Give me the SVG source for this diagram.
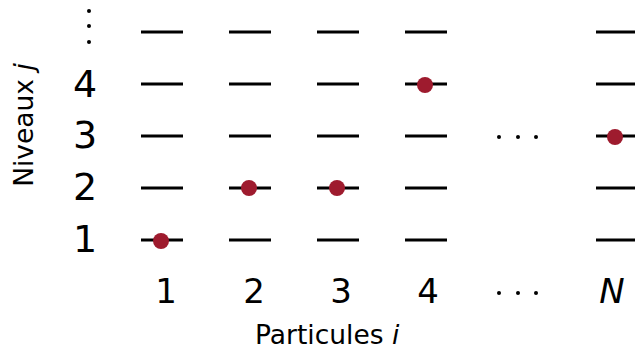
<svg xmlns="http://www.w3.org/2000/svg" width="635" height="351" viewBox="0 0 635 351">
<style>
.lv{stroke:#000;stroke-width:3;fill:none}
.p{fill:#9e1b2e}
.d{fill:#000}
.t{font-family:"DejaVu Sans","Liberation Sans",sans-serif;fill:#000}
.yl{font-size:38px;text-anchor:middle}
.xl{font-size:34px;text-anchor:middle}
.ax{font-size:26.5px}
</style>
<rect width="635" height="351" fill="#fff"/>
<g id="connectors">
<g id="col1"><line class="lv" x1="141" y1="32" x2="183" y2="32"/><line class="lv" x1="141" y1="84" x2="183" y2="84"/><line class="lv" x1="141" y1="136" x2="183" y2="136"/><line class="lv" x1="141" y1="188" x2="183" y2="188"/><line class="lv" x1="141" y1="240" x2="183" y2="240"/></g>
<g id="col2"><line class="lv" x1="229" y1="32" x2="271" y2="32"/><line class="lv" x1="229" y1="84" x2="271" y2="84"/><line class="lv" x1="229" y1="136" x2="271" y2="136"/><line class="lv" x1="229" y1="188" x2="271" y2="188"/><line class="lv" x1="229" y1="240" x2="271" y2="240"/></g>
<g id="col3"><line class="lv" x1="317" y1="32" x2="359" y2="32"/><line class="lv" x1="317" y1="84" x2="359" y2="84"/><line class="lv" x1="317" y1="136" x2="359" y2="136"/><line class="lv" x1="317" y1="188" x2="359" y2="188"/><line class="lv" x1="317" y1="240" x2="359" y2="240"/></g>
<g id="col4"><line class="lv" x1="405" y1="32" x2="447" y2="32"/><line class="lv" x1="405" y1="84" x2="447" y2="84"/><line class="lv" x1="405" y1="136" x2="447" y2="136"/><line class="lv" x1="405" y1="188" x2="447" y2="188"/><line class="lv" x1="405" y1="240" x2="447" y2="240"/></g>
<g id="colN"><line class="lv" x1="596" y1="32" x2="638" y2="32"/><line class="lv" x1="596" y1="84" x2="638" y2="84"/><line class="lv" x1="596" y1="136" x2="638" y2="136"/><line class="lv" x1="596" y1="188" x2="638" y2="188"/><line class="lv" x1="596" y1="240" x2="638" y2="240"/></g>
</g>
<g id="particles">
<circle class="p" cx="161" cy="241" r="8"/>
<circle class="p" cx="249" cy="188" r="8"/>
<circle class="p" cx="337" cy="188" r="8"/>
<circle class="p" cx="425" cy="85" r="8"/>
<circle class="p" cx="615" cy="137" r="8"/>
</g>
<g id="ellipses">
<circle class="d" cx="89" cy="11" r="2"/><circle class="d" cx="89" cy="26" r="2"/><circle class="d" cx="89" cy="42" r="2"/>
<circle class="d" cx="499" cy="137" r="2"/><circle class="d" cx="518" cy="137" r="2"/><circle class="d" cx="536" cy="137" r="2"/>
<circle class="d" cx="499" cy="293" r="2"/><circle class="d" cx="518" cy="293" r="2"/><circle class="d" cx="536" cy="293" r="2"/>
</g>
<g id="ylabels" class="t yl">
<text x="85" y="97">4</text>
<text x="85" y="148">3</text>
<text x="85" y="200">2</text>
<text x="85" y="252">1</text>
</g>
<g id="xlabels" class="t xl">
<text x="166" y="303">1</text>
<text x="254" y="303">2</text>
<text x="341" y="303">3</text>
<text x="428" y="303">4</text>
<text x="612" y="303" font-style="italic">N</text>
</g>
<g id="axes" class="t ax">
<text x="255" y="344">Particules <tspan font-style="italic">i</tspan></text>
<text transform="translate(33,125) rotate(-90)" text-anchor="middle">Niveaux <tspan font-style="italic">j</tspan></text>
</g>
</svg>
